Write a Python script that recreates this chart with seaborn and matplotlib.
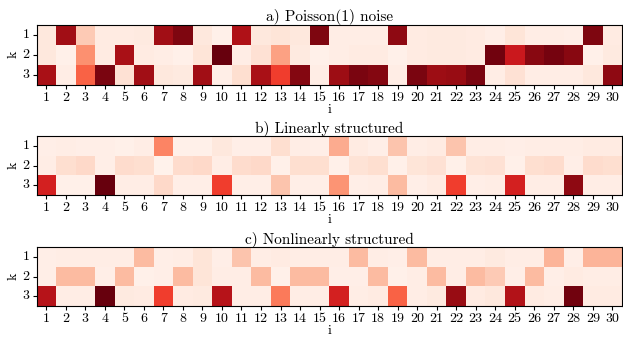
import numpy as np
import pandas as pd
import matplotlib
matplotlib.use("Agg")
import matplotlib.pyplot as plt
import seaborn as sns

# column index i and row index k
i_labels = list(range(1, 31))
k_labels = [1, 2, 3]

# a) Poisson(1) noise, values read off the colour scale (0..1)
poisson_k1 = [0.08, 0.88, 0.20, 0.06, 0.06, 0.07, 0.88, 0.95, 0.08, 0.03,
              0.84, 0.08, 0.10, 0.08, 0.95, 0.05, 0.05, 0.05, 0.92, 0.06,
              0.07, 0.07, 0.06, 0.04, 0.10, 0.05, 0.05, 0.04, 0.95, 0.06]
poisson_k2 = [0.08, 0.03, 0.38, 0.06, 0.86, 0.06, 0.05, 0.03, 0.10, 1.00,
              0.05, 0.12, 0.33, 0.07, 0.03, 0.05, 0.06, 0.06, 0.03, 0.06,
              0.07, 0.07, 0.06, 0.98, 0.75, 0.93, 0.97, 0.93, 0.03, 0.07]
poisson_k3 = [0.86, 0.05, 0.52, 0.96, 0.12, 0.88, 0.08, 0.07, 0.88, 0.04,
              0.13, 0.86, 0.62, 0.94, 0.05, 0.89, 0.96, 0.94, 0.05, 0.96,
              0.89, 0.90, 0.96, 0.05, 0.12, 0.05, 0.05, 0.05, 0.08, 0.92]

# b) Linearly structured
linear_k1 = [0.04, 0.05, 0.04, 0.04, 0.03, 0.05, 0.42, 0.03, 0.03, 0.08,
             0.04, 0.04, 0.13, 0.05, 0.04, 0.30, 0.06, 0.04, 0.22, 0.05,
             0.06, 0.22, 0.05, 0.05, 0.04, 0.05, 0.05, 0.05, 0.06, 0.06]
linear_k2 = [0.05, 0.13, 0.15, 0.04, 0.14, 0.13, 0.02, 0.14, 0.15, 0.05,
             0.14, 0.15, 0.03, 0.13, 0.13, 0.03, 0.11, 0.13, 0.03, 0.10,
             0.12, 0.03, 0.11, 0.12, 0.03, 0.13, 0.14, 0.04, 0.14, 0.13]
linear_k3 = [0.72, 0.03, 0.03, 1.00, 0.05, 0.05, 0.15, 0.04, 0.04, 0.62,
             0.04, 0.04, 0.22, 0.04, 0.04, 0.37, 0.04, 0.05, 0.25, 0.04,
             0.06, 0.62, 0.04, 0.05, 0.72, 0.05, 0.05, 0.92, 0.05, 0.05]

# c) Nonlinearly structured
nonlin_k1 = [0.04, 0.05, 0.05, 0.05, 0.05, 0.25, 0.04, 0.05, 0.10, 0.04,
             0.22, 0.05, 0.06, 0.05, 0.05, 0.05, 0.25, 0.05, 0.04, 0.25,
             0.05, 0.05, 0.05, 0.07, 0.05, 0.05, 0.27, 0.04, 0.27, 0.27]
nonlin_k2 = [0.04, 0.25, 0.25, 0.04, 0.25, 0.03, 0.04, 0.25, 0.10, 0.05,
             0.05, 0.25, 0.03, 0.25, 0.25, 0.04, 0.04, 0.25, 0.03, 0.05,
             0.25, 0.05, 0.25, 0.20, 0.04, 0.25, 0.04, 0.06, 0.05, 0.05]
nonlin_k3 = [0.82, 0.05, 0.05, 1.00, 0.07, 0.06, 0.62, 0.06, 0.07, 0.82,
             0.05, 0.05, 0.45, 0.05, 0.05, 0.72, 0.05, 0.06, 0.52, 0.05,
             0.07, 0.90, 0.06, 0.08, 0.83, 0.06, 0.05, 0.98, 0.06, 0.06]

titles = ["a) Poisson(1) noise", "b) Linearly structured", "c) Nonlinearly structured"]
panels = [
    [poisson_k1, poisson_k2, poisson_k3],
    [linear_k1, linear_k2, linear_k3],
    [nonlin_k1, nonlin_k2, nonlin_k3],
]

plt.rcParams['font.family'] = ['cmr10', 'DejaVu Serif']
plt.rcParams['mathtext.fontset'] = 'cm'
plt.rcParams['axes.formatter.use_mathtext'] = True

fig = plt.figure(figsize=(6.23, 3.41), dpi=100, facecolor='white')

# axes boxes in figure fraction: left, bottom, width, height
boxes = [
    [0.0586, 0.752, 0.940, 0.175],
    [0.0586, 0.428, 0.940, 0.173],
    [0.0586, 0.103, 0.940, 0.172],
]

for rows, title, box in zip(panels, titles, boxes):
    ax = fig.add_axes(box)
    df = pd.DataFrame(rows, index=k_labels, columns=i_labels)
    sns.heatmap(df, ax=ax, cmap='Reds', vmin=0, vmax=1, cbar=False,
                xticklabels=i_labels, yticklabels=k_labels)
    for s in ax.spines.values():
        s.set_visible(True)
        s.set_linewidth(0.8)
    ax.set_title(title, fontsize=11, pad=2)
    ax.set_xlabel('i', fontsize=10, labelpad=0)
    ax.set_ylabel('k', fontsize=10, labelpad=2)
    ax.tick_params(axis='both', labelsize=10, length=3, pad=2)
    ax.tick_params(axis='y', rotation=0)
    ax.tick_params(axis='x', rotation=0)

fig.savefig('out.png', dpi=100, facecolor='white')
